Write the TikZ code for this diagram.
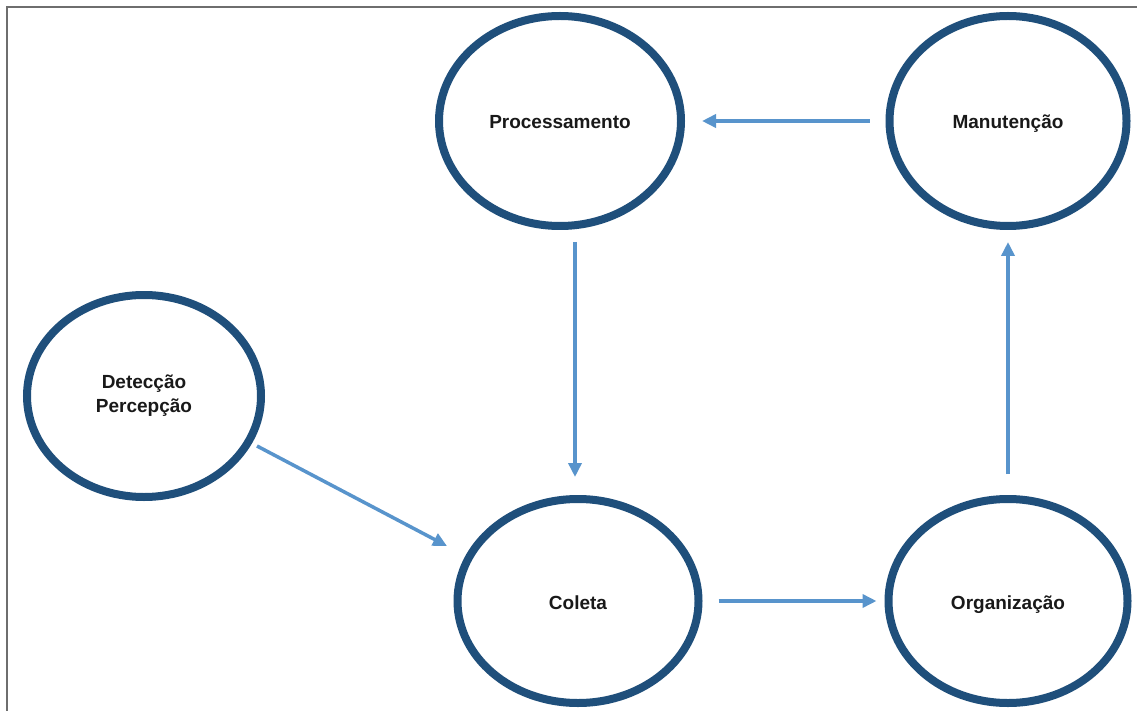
\documentclass[tikz,border=0pt]{standalone}
\usepackage{fontspec}
\setmainfont{Liberation Sans}
\usetikzlibrary{arrows.meta,calc,shapes.geometric}
\definecolor{ringblue}{RGB}{31,79,123}
\definecolor{arrowblue}{RGB}{88,148,204}
\definecolor{framegrey}{RGB}{110,110,110}
\tikzset{
  ring/.style={ellipse, draw=ringblue, line width=8pt, inner sep=0pt, fill=white,
    font=\fontsize{19}{23}\selectfont\bfseries, align=center, text=black!90},
  oneline/.style={text height=20pt, text depth=4pt},
  flow/.style={draw=arrowblue, line width=3.5pt, -{Triangle[length=14pt,width=13pt]}}
}
\begin{document}
\begin{tikzpicture}[x=1pt,y=-1pt]
\useasboundingbox (0,0) rectangle (1137,711);
\fill[white] (0,0) rectangle (1137,711);
\draw[framegrey, line width=2pt] (7,711) -- (7,7) -- (1137,7);

\node[ring, minimum width=234pt, minimum height=202pt] (det) at (144,396) {Detecção\\[1pt]Percepção};
\node[ring, oneline, minimum width=242pt, minimum height=210pt] (proc) at (560,121) {Processamento};
\node[ring, oneline, minimum width=237pt, minimum height=210pt] (man) at (1008,121) {Manutenção};
\node[ring, oneline, minimum width=241pt, minimum height=204pt] (col) at (578,601) {Coleta};
\node[ring, oneline, minimum width=239pt, minimum height=204pt] (org) at (1008,601) {Organização};

\draw[flow, shorten <=16pt, shorten >=17pt] (man.west) -- (proc.east);
\draw[flow] ($(proc.south)+(15,12)$) -- ($(col.north)+(-3,-18)$);
\draw[flow] ($(det.center)+(113,50)$) -- ($(col.center)+(-131,-55)$);
\draw[flow, shorten <=16pt, shorten >=8pt] (col.east) -- (org.west);
\draw[flow, shorten <=21pt, shorten >=12pt] (org.north) -- (man.south);
\end{tikzpicture}
\end{document}
